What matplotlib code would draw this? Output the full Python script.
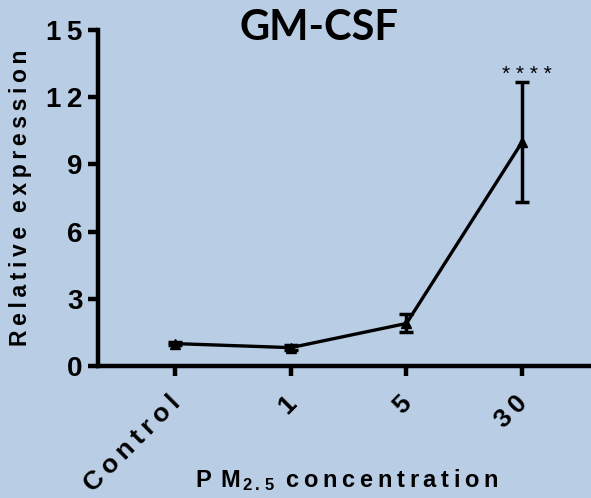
import numpy as np
import matplotlib
matplotlib.use("Agg")
import matplotlib.pyplot as plt
import matplotlib.transforms as mtransforms

plt.rcParams['font.family'] = ['Liberation Sans', 'DejaVu Sans']
plt.rcParams['mathtext.fontset'] = 'custom'
plt.rcParams['mathtext.rm'] = 'Liberation Sans:bold'
plt.rcParams['mathtext.bf'] = 'Liberation Sans:bold'
plt.rcParams['mathtext.it'] = 'Liberation Sans:bold'
plt.rcParams['mathtext.default'] = 'rm'

groups = ["Control", "1", "5", "30"]
means = [1.0, 0.82, 1.9, 10.0]
errs = [0.05, 0.1, 0.4, 2.7]
yticks = [0, 3, 6, 9, 12, 15]

bg = "#B9CDE5"
TS = "\u2009"


def spaced(s):
    # widen letter spacing the way the prism export does
    return (TS * 3).join(TS.join(w) for w in s.split(" "))


fig = plt.figure(figsize=(5.91, 4.98), dpi=100, facecolor=bg)
ax = fig.add_axes([98 / 591, 132 / 498, 1 - 98 / 591, (366 - 30) / 498])
ax.set_facecolor(bg)

x = np.arange(len(groups))
ax.errorbar(x, means, yerr=errs, color='black', lw=2.4, marker='^', ms=7,
            capsize=5, capthick=2.5, elinewidth=2.5)

ax.set_xlim(-0.666, 3.595)
ax.set_ylim(0, 15)
ax.spines['right'].set_visible(False)
ax.spines['top'].set_visible(False)
for s in ['left', 'bottom']:
    ax.spines[s].set_linewidth(3.2)

ax.set_yticks(yticks)
ax.set_yticklabels([spaced(str(v)) for v in yticks], fontsize=20, fontweight='bold')
ax.set_xticks(x)
ax.set_xticklabels([spaced(g) for g in groups], fontsize=19, fontweight='bold',
                   rotation=45, ha='right', va='top')
ax.tick_params(axis='both', length=7, width=3.2, direction='out')
ax.tick_params(axis='y', pad=4)
ax.tick_params(axis='x', pad=11)
shift = mtransforms.ScaledTranslation(10 / 100, 0, fig.dpi_scale_trans)
for lab in ax.get_xticklabels():
    lab.set_transform(lab.get_transform() + shift)

ax.set_ylabel(spaced("Relative expression"),
              fontsize=16.5, fontweight='bold', labelpad=10)

xl = "P" + TS * 2 + "M$_{\\,2\\,.\\,5}$" + TS + " " + spaced("concentration")
fig.text(347 / 591, (498 - 487) / 498, xl, fontsize=17, fontweight='bold',
         ha='center', va='baseline')

ax.text(3.04, 13.0, "* * * *", fontsize=15, ha='center', va='center')

fig.text(319 / 591, (498 - 40) / 498, "GM-CSF", fontsize=30, fontweight='bold',
         family='Lato', ha='center', va='baseline')

fig.savefig("out.png", dpi=100, facecolor=bg)
